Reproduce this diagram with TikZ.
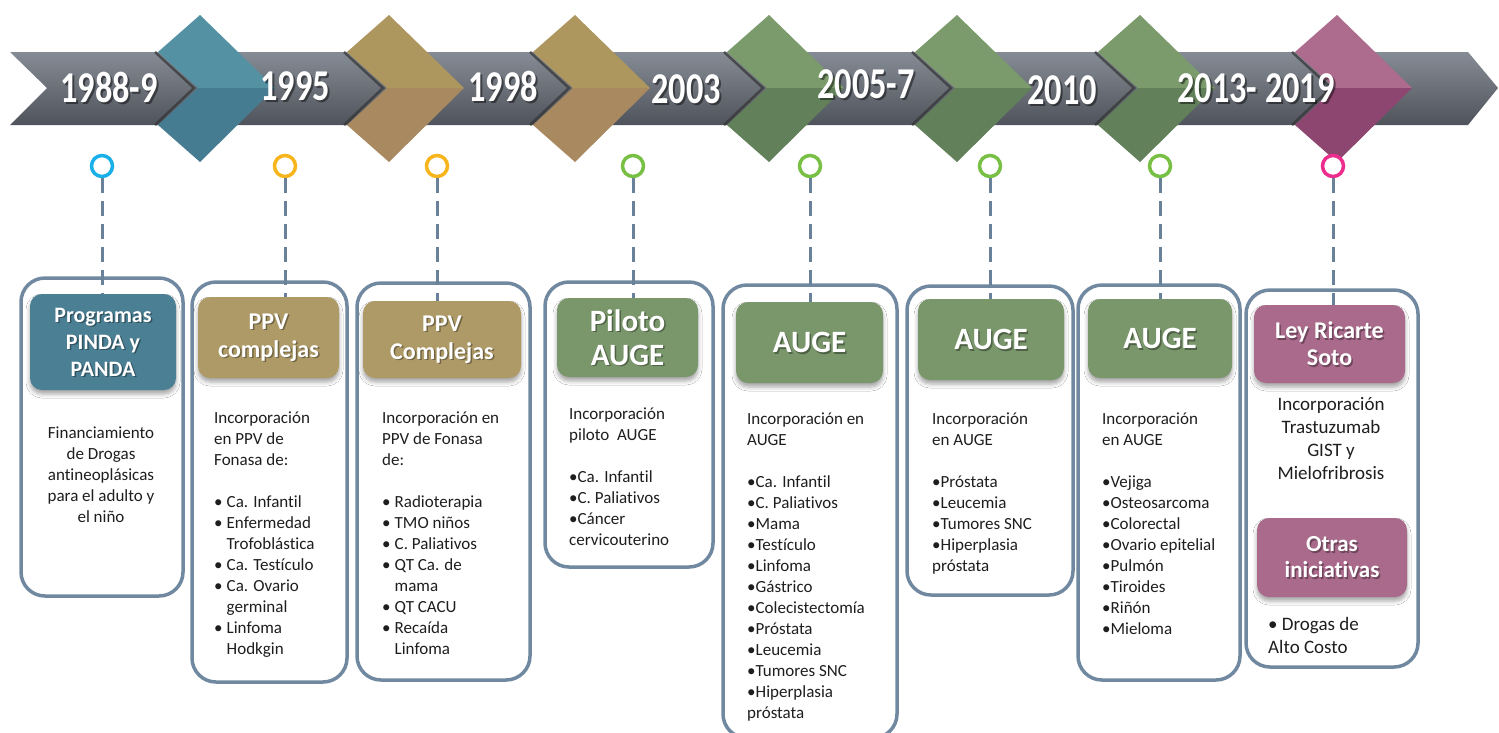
\documentclass[tikz,border=0pt]{standalone}
\usepackage{fontspec}
\setmainfont{Carlito}[Ligatures=NoCommon]
\usetikzlibrary{fit,shadows.blur}
\definecolor{bandtop}{HTML}{868C95}
\definecolor{bandmid}{HTML}{6B7079}
\definecolor{bandbot}{HTML}{4F535B}
\definecolor{tealT}{HTML}{5391A3}
\definecolor{tealB}{HTML}{467C91}
\definecolor{goldT}{HTML}{AE965F}
\definecolor{goldB}{HTML}{A98A60}
\definecolor{greenT}{HTML}{7B9B6C}
\definecolor{greenB}{HTML}{62805A}
\definecolor{magT}{HTML}{AD6B8D}
\definecolor{magB}{HTML}{8D4670}
\definecolor{hteal}{HTML}{4B7F94}
\definecolor{hgold}{HTML}{AE9A67}
\definecolor{hgreen}{HTML}{7A976C}
\definecolor{hmag}{HTML}{AA6A8C}
\definecolor{framec}{HTML}{7089A0}
\definecolor{dashc}{HTML}{6A8299}
\definecolor{textc}{HTML}{1E1E1E}
\definecolor{ringcyan}{HTML}{19AFE9}
\definecolor{ringorange}{HTML}{F7B41B}
\definecolor{ringgreen}{HTML}{77C043}
\definecolor{ringmag}{HTML}{EC2D8E}
\newcommand\bul{\makebox[12.5pt][l]{•}}
\newcommand\bulhang{\hspace*{12.5pt}}
\newcommand\yr[1]{\scalebox{0.78}[1]{#1}}
\newcommand\chev[3]{%
  \draw[draw=black!80, opacity=0.7, line width=2.5pt] (#1-3,52) -- (#1+36,88) -- (#1-3,125);
  \fill[#2] (#1,52) -- (#1+42,15) -- (#1+117,88) -- (#1+40,88) -- cycle;
  \fill[#3] (#1+40,88) -- (#1+117,88) -- (#1+42,162) -- (#1,125) -- cycle;
}
\tikzset{
  frame/.style={draw=framec, line width=3.5pt, rounded corners=24pt, fill=white, inner sep=0pt},
  hdr/.style={rounded corners=12pt, inner sep=0pt,
    blur shadow={shadow xshift=0pt, shadow yshift=-4pt, shadow blur radius=4pt, shadow opacity=35}},
  hdrtext/.style={text=white, font=\bfseries, align=center, inner sep=0pt},
  hdrshadow/.style={text=black, opacity=0.35, font=\bfseries, align=center, inner sep=0pt},
  body/.style={anchor=north west, align=left, inner sep=0pt, text=textc,
    font=\fontsize{17}{21}\selectfont, execute at begin node=\strut},
  bodyc/.style={anchor=north, align=center, inner sep=0pt, text=textc,
    font=\fontsize{17}{21}\selectfont, execute at begin node=\strut},
  ring/.style={circle, draw, line width=3.5pt, fill=white, minimum size=21pt, inner sep=0pt},
  dashline/.style={draw=dashc, line width=3pt, dash pattern=on 15pt off 8pt},
  year/.style={text=white, font=\fontsize{44}{44}\selectfont\bfseries, inner sep=0pt},
  yearsh/.style={text=black, opacity=0.45, font=\fontsize{44}{44}\selectfont\bfseries, inner sep=0pt},
}
\begin{document}
\begin{tikzpicture}[x=1pt,y=-1pt]
\fill[white] (0,0) rectangle (1499,732);
\useasboundingbox (0,0) rectangle (1499,732);

% timeline band
\shade[top color=bandtop, middle color=bandmid, bottom color=bandbot]
  (10,52) -- (1468,52) -- (1498,88) -- (1468,125) -- (10,125) -- (47,88) -- cycle;

% chevrons
\chev{158}{tealT}{tealB}
\chev{347}{goldT}{goldB}
\chev{533}{goldT}{goldB}
\chev{727}{greenT}{greenB}
\chev{915}{greenT}{greenB}
\chev{1098}{greenT}{greenB}
\chev{1295}{magT}{magB}

% year labels
\foreach \x/\y/\t in {109/87/1988-9, 295/86/1995, 503/86/1998, 686/89/2003, 866/84/2005-7, 1062/90/2010}
  \node[yearsh] at (\x+2,\y+2) {\yr{\t}};
\node[yearsh] at (1258,90) {\yr{2013- 2019}};
\node[year] (y1) at (109,87) {\yr{1988-9}};
\node[year] (y2) at (295,86) {\yr{1995}};
\node[year] (y3) at (503,86) {\yr{1998}};
\node[year] (y4) at (686,89) {\yr{2003}};
\node[year] (y5) at (866,84) {\yr{2005-7}};
\node[year] (y6) at (1062,90) {\yr{2010}};
\node[year] (y7) at (1256,88) {\yr{2013- 2019}};

% rings
\node[ring, draw=ringcyan] (r1) at (102,166) {};
\node[ring, draw=ringorange] (r2) at (285,166) {};
\node[ring, draw=ringorange] (r3) at (437,166) {};
\node[ring, draw=ringgreen] (r4) at (633,166) {};
\node[ring, draw=ringgreen] (r5) at (810,166) {};
\node[ring, draw=ringgreen] (r6) at (990,166) {};
\node[ring, draw=ringgreen] (r7) at (1160,166) {};
\node[ring, draw=ringmag] (r8) at (1333,166) {};

% frames
\node[frame, fit={(21,278)(183,596)}] (f1) {};
\node[frame, fit={(192,282)(347,682)}] (f2) {};
\node[frame, fit={(357,283)(530,680)}] (f3) {};
\node[frame, fit={(545,282)(713,567)}] (f4) {};
\node[frame, fit={(723,285)(897,738)}] (f5) {};
\node[frame, fit={(907,286)(1073,595)}] (f6) {};
\node[frame, fit={(1078,285)(1240,680)}] (f7) {};
\node[frame, fit={(1246,290)(1418,667)}] (f8) {};

% headers
\node[hdr, fill=hteal, fit={(30,294)(176,390)}] (h1) {};
\node[hdr, fill=hgold, fit={(198,297)(339,378)}] (h2) {};
\node[hdr, fill=hgold, fit={(363,301)(521,378)}] (h3) {};
\node[hdr, fill=hgreen, fit={(557,298)(698,377)}] (h4) {};
\node[hdr, fill=hgreen, fit={(736,302)(883,383)}] (h5) {};
\node[hdr, fill=hgreen, fit={(918,299)(1064,380)}] (h6) {};
\node[hdr, fill=hgreen, fit={(1088,299)(1232,378)}] (h7) {};
\node[hdr, fill=hmag, fit={(1254,305)(1405,383)}] (h8) {};
\node[hdr, fill=hmag, fit={(1257,518)(1407,597)}] (h9) {};

% dashed connectors
\foreach \i in {1,...,8}
  \draw[dashline] (r\i.south) -- (r\i.south |- h\i.north);

% header texts
\node[hdrshadow, font=\fontsize{22}{27}\selectfont\bfseries] at ([shift={(1.5,1.5)}]h1.center) {Programas\\PINDA y\\PANDA};
\node[hdrtext, font=\fontsize{22}{27}\selectfont\bfseries] (t1) at (h1.center) {Programas\\PINDA y\\PANDA};
\node[hdrshadow, font=\fontsize{24}{28}\selectfont\bfseries] at ([shift={(1.5,1.5)}]h2.center) {PPV\\complejas};
\node[hdrtext, font=\fontsize{24}{28}\selectfont\bfseries] (t2) at (h2.center) {PPV\\complejas};
\node[hdrshadow, font=\fontsize{24}{28}\selectfont\bfseries] at ([shift={(1.5,1.5)}]h3.center) {PPV\\Complejas};
\node[hdrtext, font=\fontsize{24}{28}\selectfont\bfseries] (t3) at (h3.center) {PPV\\Complejas};
\node[hdrshadow, font=\fontsize{31}{34}\selectfont\bfseries] at ([shift={(1.5,1.5)}]h4.center) {Piloto\\AUGE};
\node[hdrtext, font=\fontsize{31}{34}\selectfont\bfseries] (t4) at (h4.center) {Piloto\\AUGE};
\node[hdrshadow, font=\fontsize{31}{34}\selectfont\bfseries] at ([shift={(1.5,1.5)}]h5.center) {AUGE};
\node[hdrtext, font=\fontsize{31}{34}\selectfont\bfseries] (t5) at (h5.center) {AUGE};
\node[hdrshadow, font=\fontsize{31}{34}\selectfont\bfseries] at ([shift={(1.5,1.5)}]h6.center) {AUGE};
\node[hdrtext, font=\fontsize{31}{34}\selectfont\bfseries] (t6) at (h6.center) {AUGE};
\node[hdrshadow, font=\fontsize{31}{34}\selectfont\bfseries] at ([shift={(1.5,1.5)}]h7.center) {AUGE};
\node[hdrtext, font=\fontsize{31}{34}\selectfont\bfseries] (t7) at (h7.center) {AUGE};
\node[hdrshadow, font=\fontsize{24}{27}\selectfont\bfseries] at ([shift={(1.5,1.5)}]h8.center) {Ley Ricarte\\Soto};
\node[hdrtext, font=\fontsize{24}{27}\selectfont\bfseries] (t8) at (h8.center) {Ley Ricarte\\Soto};
\node[hdrshadow, font=\fontsize{23}{26}\selectfont\bfseries] at ([shift={(1.5,1.5)}]h9.center) {Otras\\iniciativas};
\node[hdrtext, font=\fontsize{23}{26}\selectfont\bfseries] (t9) at (h9.center) {Otras\\iniciativas};

% body texts
\node[bodyc] (b1) at (101,427) {Financiamiento\\de Drogas\\antineoplásicas\\para el adulto y\\el niño};
\node[body] (b2) at (214,412) {Incorporación\\en PPV de\\Fonasa de:\\[21pt]\bul Ca. Infantil\\\bul Enfermedad\\\bulhang Trofoblástica\\\bul Ca. Testículo\\\bul Ca. Ovario\\\bulhang germinal\\\bul Linfoma\\\bulhang Hodkgin};
\node[body] (b3) at (382,412) {Incorporación en\\PPV de Fonasa\\de:\\[21pt]\bul Radioterapia\\\bul TMO niños\\\bul C. Paliativos\\\bul QT Ca. de\\\bulhang mama\\\bul QT CACU\\\bul Recaída\\\bulhang Linfoma};
\node[body] (b4) at (569,408) {Incorporación\\piloto\ \ AUGE\\[21pt]•Ca. Infantil\\•C. Paliativos\\•Cáncer\\cervicouterino};
\node[body] (b5) at (747,413) {Incorporación en\\AUGE\\[21pt]•Ca. Infantil\\•C. Paliativos\\•Mama\\•Testículo\\•Linfoma\\•Gástrico\\•Colecistectomía\\•Próstata\\•Leucemia\\•Tumores SNC\\•Hiperplasia\\próstata};
\node[body] (b6) at (932,413) {Incorporación\\en AUGE\\[21pt]•Próstata\\•Leucemia\\•Tumores SNC\\•Hiperplasia\\próstata};
\node[body] (b7) at (1102,413) {Incorporación\\en AUGE\\[21pt]•Vejiga\\•Osteosarcoma\\•Colorectal\\•Ovario epitelial\\•Pulmón\\•Tiroides\\•Riñón\\•Mieloma};
\node[bodyc, font=\fontsize{19}{23}\selectfont] (b8) at (1331,397) {Incorporación\\Trastuzumab\\GIST y\\Mielofribrosis};
\node[body, font=\fontsize{19}{23}\selectfont] (b9) at (1268,617) {• Drogas de\\Alto Costo};
\end{tikzpicture}
\end{document}
